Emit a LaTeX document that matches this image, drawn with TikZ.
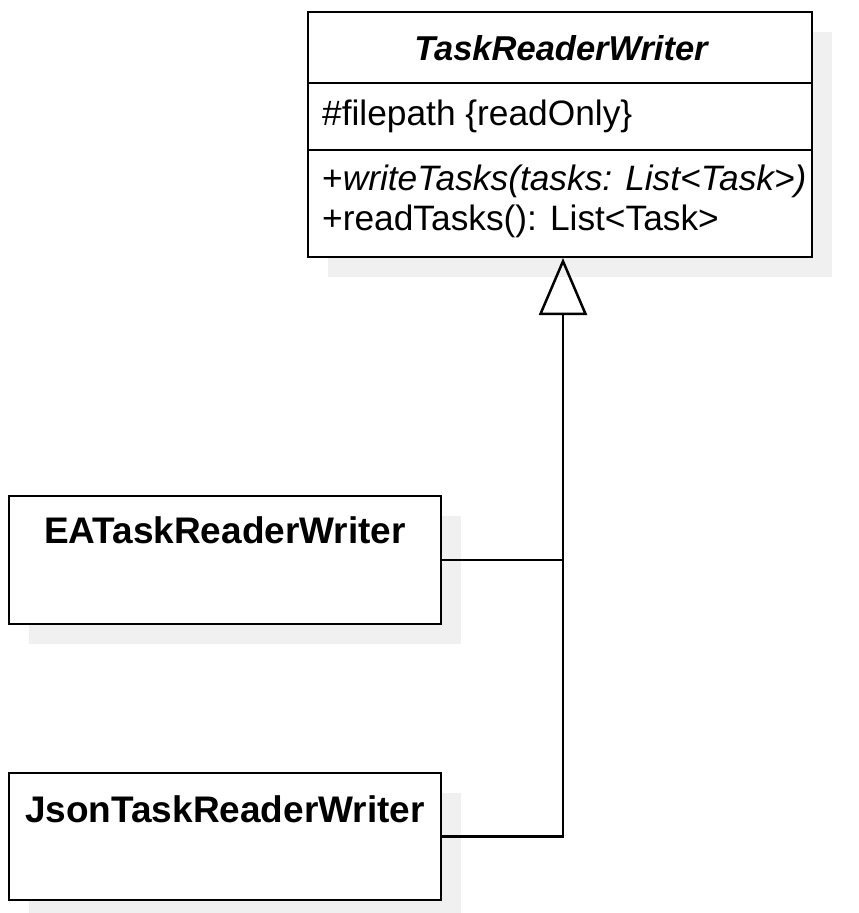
\documentclass[tikz,border=0pt]{standalone}
\usepackage{fontspec}
\setmainfont{Liberation Sans}
\usetikzlibrary{arrows.meta}
\definecolor{shadowgray}{HTML}{F0F0F0}
\begin{document}
\begin{tikzpicture}[x=1pt,y=-1pt,
  umlbox/.style={draw=black,line width=2.5pt,fill=white},
  txt/.style={inner sep=0pt,anchor=base west,font=\fontsize{35.3}{40}\selectfont},
  ttl/.style={inner sep=0pt,anchor=base,font=\fontsize{37}{42}\selectfont\bfseries},
  conn/.style={line width=2.3pt,line join=miter}]
\useasboundingbox[fill=white] (0,0) rectangle (859,913);
% shadows
\fill[shadowgray] (328,32) rectangle (832,277);
\fill[shadowgray] (29,516) rectangle (461,644);
\fill[shadowgray] (29,793) rectangle (461,913);
% top class
\node[umlbox,minimum width=504pt,minimum height=245pt,inner sep=0pt] (top) at (560,134.5) {};
\draw[line width=2.5pt] (top.west |- 0,83) -- (top.east |- 0,83);
\draw[line width=2.5pt] (top.west |- 0,150) -- (top.east |- 0,150);
\node[ttl,font=\fontsize{34.5}{40}\selectfont\bfseries\itshape] (ttop) at (561,60) {TaskReaderWriter};
\node[txt] (attr) at (322,125) {\#filepath \{readOnly\}};
\node[txt] (m1) at (322,190) {+\textit{writeTasks(tasks: List<Task>)}};
\node[txt] (m2) at (322,230) {+readTasks(): List<Task>};
% subclasses
\node[umlbox,minimum width=432pt,minimum height=128pt,inner sep=0pt] (ea) at (225,560) {};
\node[ttl] (tea) at (225,543) {EATaskReaderWriter};
\node[umlbox,minimum width=432pt,minimum height=127pt,inner sep=0pt] (json) at (225,836.5) {};
\node[ttl] (tjson) at (225,822) {JsonTaskReaderWriter};
% connectors
\coordinate (apex) at (563,258);
\coordinate (jx) at (563,836.5);
\draw[conn] (ea.east) -- (ea.east -| apex);
\draw[conn,-{Triangle[open,length=57pt,width=48pt,line width=2.5pt]}] (json.east) -- (jx) -- (apex);
\end{tikzpicture}
\end{document}
